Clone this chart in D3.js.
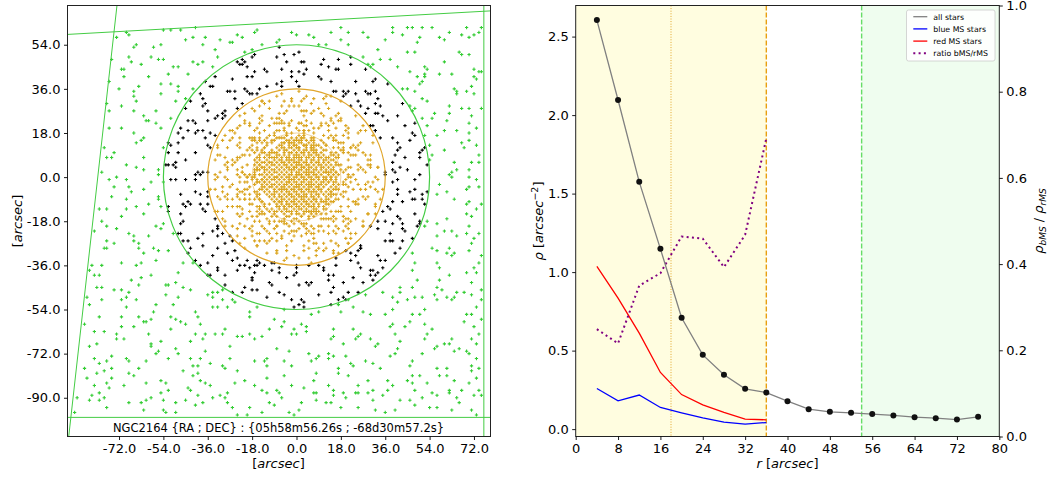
<!DOCTYPE html>
<html>
<head>
<meta charset="utf-8">
<script src="https://cdn.jsdelivr.net/npm/d3@7"></script>
<style>
  body { margin: 0; background: #fff; }
  text { font-family: "DejaVu Sans", sans-serif; }
</style>
</head>
<body>
<svg id="chart" width="1051" height="478"></svg>
<script>
// ---------- left panel data (arcsec) ----------
// field stars over the whole frame (x, y pairs)
const fieldStars = [
  -73,57, -69,59, -66,53, -68,58, -65,54, -51,60, -58,53, -54,60, -55,54, -47,60, -45,56, -42,57, -41,61, -33,52, -31,56, -37,57, -38,54, -27,55, -22,57, -26,55, -24,58, -18,52, -14,54, -16,60, -17,59, -7,56, -2,59, -7,53, -8,55, 7,57, 9,54, 5,58, 0,58, 12,54, 18,56, 18,61, 14,59, 21,59, 29,57, 27,59, 21,54, 36,56, 39,59, 33,52, 39,61, 49,55, 43,58, 47,61, 45,61, 51,61, 50,57, 55,61, 58,57, 62,59, 60,56, 69,61, 67,58, 72,58, 75,61, 70,57, 74,59,
  -75,48, -71,44, -68,49, -67,47, -70,44, -63,46, -52,42, -59,49, -54,48, -56,48, -50,45, -44,42, -48,45, -42,47, -34,45, -38,47, -40,46, -32,49, -21,47, -21,51, -22,46, -24,47, -18,49, -12,43, -20,45, -17,50, -6,44, -2,43, -8,49, -5,50, 3,47, 4,44, 2,47, 1,43, 11,48, 17,48, 10,46, 16,44, 27,49, 29,46, 28,44, 22,49, 31,46, 34,48, 38,48, 30,45, 48,51, 46,43, 45,51, 41,45, 53,44, 52,42, 58,42, 52,45, 63,42, 60,47, 66,51, 67,50, 72,44, 74,43, 70,50, 75,43,
  -76,39, -72,36, -66,33, -66,35, -64,37, -70,41, -51,38, -55,38, -55,34, -60,41, -45,32, -42,36, -48,35, -48,37, -37,39, -39,34, -33,41, -38,32, -25,32, -27,35, -25,35, -21,36, -16,34, -20,41, -12,37, -19,34, -8,38, -2,32, -6,37, -2,41, 1,37, 0,39, 1,35, 7,32, 14,39, 15,35, 10,40, 12,33, 28,35, 24,34, 21,35, 20,34, 32,40, 37,38, 30,34, 31,39, 49,41, 43,36, 48,35, 45,36, 52,41, 51,32, 51,39, 50,38, 65,35, 65,34, 64,36, 69,35, 73,40, 72,34, 72,41, 71,37,
  -77,30, -71,29, -76,27, -62,25, -61,23, -65,31, -66,27, -51,24, -57,27, -60,23, -57,22, -42,23, -49,31, -41,22, -44,23, -36,23, -36,27, -38,29, -32,25, -22,30, -29,25, -30,26, -21,23, -13,30, -15,29, -14,31, -14,25, -5,22, -1,29, -7,22, -7,24, 4,23, 4,27, 6,26, 1,22, 12,30, 18,31, 14,23, 17,26, 25,31, 26,29, 24,25, 28,26, 32,30, 34,29, 33,26, 37,23, 48,28, 46,29, 47,27, 48,22, 53,31, 51,24, 56,26, 55,24, 62,29, 67,28, 61,23, 62,26, 70,28, 70,22, 75,28, 71,25,
  -71,20, -78,12, -76,20, -65,14, -63,15, -66,18, -62,16, -55,20, -54,12, -52,14, -51,13, -48,18, -47,20, -46,16, -44,19, -40,19, -37,16, -36,13, -32,13, -24,20, -29,17, -30,15, -26,19, -15,16, -16,14, -17,15, -18,16, -4,17, -5,14, -6,16, -2,14, 2,16, 1,15, 3,19, 3,13, 19,12, 13,19, 16,17, 10,15, 27,21, 22,12, 26,19, 20,19, 32,19, 34,16, 39,16, 31,21, 44,21, 41,14, 42,12, 47,18, 53,21, 57,17, 52,17, 54,13, 65,19, 68,12, 67,14, 60,19, 70,18, 73,13, 73,20, 70,15,
  -74,10, -77,8, -79,2, -75,8, -65,4, -62,8, -62,3, -69,5, -53,5, -56,3, -52,5, -52,10, -49,6, -45,7, -48,10, -50,5, -31,2, -38,2, -40,2, -31,9, -24,7, -28,4, -22,2, -28,6, -11,6, -18,11, -15,5, -16,3, -10,10, -1,4, -9,8, -3,7, 1,8, 5,2, 3,4, 6,11, 14,9, 13,8, 16,2, 17,8, 28,9, 29,5, 22,9, 25,3, 39,3, 30,5, 33,4, 36,2, 40,2, 40,9, 42,4, 41,11, 53,5, 54,7, 50,10, 55,9, 63,2, 60,11, 65,3, 64,6, 74,9, 74,6, 71,6, 70,3,
  -76,-1, -74,-4, -73,0, -75,-8, -68,-4, -69,-1, -67,-6, -62,-5, -56,-8, -59,-2, -56,1, -54,-2, -41,1, -45,-1, -49,-1, -41,-6, -36,-8, -39,1, -35,-5, -39,-7, -29,-8, -24,-7, -30,-4, -21,-7, -16,-2, -17,1, -17,-6, -20,0, -5,-5, -3,-2, -8,0, -3,-7, 0,1, 3,-8, 6,-6, 5,-3, 17,-3, 15,-7, 19,-3, 14,-6, 29,-8, 21,0, 29,-2, 25,-3, 33,-1, 30,-4, 39,-2, 32,-5, 41,-1, 48,-1, 46,-6, 41,-7, 51,-7, 57,-7, 53,-6, 58,-3, 61,-6, 69,-5, 63,0, 62,1, 73,-1, 70,0, 70,-4, 74,-4,
  -71,-16, -77,-13, -79,-18, -80,-13, -65,-12, -69,-9, -69,-13, -62,-15, -55,-12, -56,-9, -52,-12, -60,-11, -43,-11, -46,-18, -46,-11, -44,-10, -38,-13, -37,-14, -33,-14, -31,-9, -21,-9, -24,-12, -28,-9, -23,-9, -16,-12, -11,-11, -15,-9, -14,-14, -3,-12, -7,-10, -5,-12, -9,-14, 8,-14, 7,-12, 5,-14, 7,-9, 15,-18, 12,-13, 17,-9, 12,-10, 24,-11, 28,-9, 29,-15, 21,-17, 32,-12, 32,-15, 37,-12, 39,-10, 43,-10, 48,-9, 41,-16, 48,-15, 53,-18, 50,-18, 51,-9, 52,-11, 69,-11, 64,-9, 69,-15, 61,-17, 71,-16, 75,-11, 73,-13, 70,-10,
  -82,-22, -74,-27, -73,-21, -77,-20, -77,-26, -64,-27, -68,-23, -66,-24, -66,-26, -60,-24, -54,-19, -55,-21, -57,-20, -44,-26, -46,-26, -47,-19, -50,-23, -32,-21, -34,-22, -40,-25, -38,-23, -29,-27, -27,-24, -21,-20, -26,-26, -11,-26, -16,-28, -14,-20, -17,-26, -1,-22, -5,-19, -8,-20, -9,-18, 4,-23, 7,-27, 3,-19, 7,-25, 11,-22, 19,-22, 10,-20, 17,-28, 20,-25, 22,-25, 21,-27, 27,-20, 39,-26, 38,-23, 36,-26, 30,-20, 49,-20, 44,-22, 43,-19, 47,-25, 50,-19, 52,-20, 57,-24, 57,-19, 60,-22, 65,-24, 63,-22, 69,-23, 71,-27, 72,-25, 74,-23, 70,-20,
  -83,-36, -84,-38, -78,-29, -71,-35, -77,-29, -79,-36, -63,-35, -64,-29, -62,-31, -65,-36, -58,-29, -57,-34, -52,-30, -56,-30, -44,-31, -43,-29, -46,-35, -42,-35, -39,-36, -32,-38, -36,-35, -34,-32, -23,-36, -24,-33, -24,-38, -21,-29, -16,-34, -20,-34, -15,-35, -19,-37, -7,-37, -8,-31, -10,-35, -10,-38, 0,-37, 5,-36, 6,-35, 8,-30, 11,-37, 12,-29, 17,-31, 11,-38, 24,-32, 25,-30, 22,-34, 26,-37, 33,-32, 35,-37, 36,-34, 30,-38, 48,-35, 42,-29, 47,-31, 47,-38, 58,-37, 55,-29, 57,-30, 57,-35, 61,-31, 63,-32, 64,-31, 62,-29, 74,-35, 72,-37, 70,-30, 75,-32,
  -82,-40, -81,-45, -74,-46, -80,-40, -71,-46, -79,-45, -63,-41, -67,-42, -64,-44, -68,-47, -53,-44, -59,-40, -53,-48, -52,-44, -43,-46, -48,-39, -49,-43, -46,-45, -34,-47, -32,-47, -36,-40, -36,-48, -30,-46, -21,-45, -29,-44, -29,-40, -18,-41, -17,-39, -16,-46, -11,-43, -5,-48, -7,-39, -4,-41, -7,-47, 0,-39, 1,-44, 4,-43, 6,-43, 15,-40, 14,-47, 19,-43, 15,-45, 28,-48, 25,-47, 23,-41, 27,-43, 31,-42, 30,-40, 35,-47, 33,-39, 47,-45, 49,-42, 42,-47, 42,-45, 57,-45, 59,-46, 56,-48, 58,-42, 69,-39, 62,-40, 65,-47, 68,-47, 75,-46, 71,-43, 71,-48, 73,-39,
  -85,-49, -84,-52, -80,-57, -79,-50, -71,-57, -71,-50, -65,-50, -64,-57, -69,-53, -69,-49, -58,-55, -59,-58, -57,-52, -51,-57, -50,-52, -48,-49, -49,-58, -41,-55, -34,-53, -40,-57, -32,-53, -34,-49, -26,-50, -30,-50, -28,-53, -25,-51, -16,-53, -19,-57, -12,-49, -19,-55, -5,-54, -1,-53, -2,-50, -9,-58, 3,-51, 6,-56, 1,-52, 9,-55, 17,-50, 17,-52, 14,-52, 18,-55, 27,-55, 21,-50, 23,-53, 20,-50, 39,-49, 39,-54, 36,-56, 30,-56, 45,-50, 41,-51, 48,-49, 47,-56, 50,-56, 57,-50, 52,-54, 51,-49, 61,-49, 63,-50, 64,-49, 69,-56, 75,-58, 75,-50, 73,-53, 71,-56,
  -81,-68, -82,-63, -86,-60, -73,-66, -78,-63, -71,-61, -73,-64, -62,-59, -70,-66, -66,-61, -61,-59, -51,-62, -55,-67, -59,-68, -60,-64, -45,-60, -41,-64, -43,-67, -47,-59, -39,-60, -33,-64, -37,-64, -38,-66, -22,-65, -29,-62, -24,-65, -30,-64, -11,-62, -14,-65, -17,-66, -19,-64, -2,-64, -5,-59, -1,-62, -6,-61, 0,-64, 2,-60, 4,-61, 4,-63, 15,-62, 19,-68, 14,-66, 15,-65, 25,-65, 23,-62, 24,-66, 26,-64, 39,-60, 30,-66, 38,-61, 33,-68, 40,-64, 42,-67, 46,-59, 44,-61, 52,-60, 55,-62, 52,-66, 53,-64, 63,-66, 60,-68, 68,-59, 62,-68, 73,-68, 71,-66, 74,-64, 72,-61,
  -86,-78, -84,-69, -82,-74, -75,-78, -80,-76, -77,-75, -75,-73, -68,-75, -64,-78, -69,-74, -61,-75, -57,-72, -59,-69, -56,-71, -52,-74, -42,-77, -49,-70, -43,-74, -48,-72, -40,-77, -39,-74, -37,-71, -35,-76, -30,-77, -27,-74, -29,-78, -27,-69, -13,-75, -12,-74, -17,-75, -12,-77, -3,-71, -5,-75, -8,-70, -2,-77, 8,-74, 6,-75, 5,-72, 9,-73, 17,-78, 15,-73, 13,-74, 13,-72, 22,-76, 20,-73, 28,-75, 23,-77, 38,-73, 31,-76, 34,-78, 32,-69, 40,-72, 46,-77, 41,-70, 47,-75, 51,-72, 57,-69, 57,-78, 56,-70, 66,-70, 69,-71, 61,-78, 64,-71, 74,-78, 71,-77, 70,-72, 73,-74,
  -85,-82, -81,-80, -82,-85, -78,-79, -75,-82, -77,-84, -76,-86, -61,-84, -70,-85, -66,-81, -68,-80, -52,-87, -53,-84, -55,-88, -55,-83, -46,-79, -44,-86, -42,-81, -43,-87, -37,-84, -39,-83, -40,-80, -35,-85, -21,-83, -25,-84, -24,-79, -28,-88, -12,-82, -14,-87, -17,-85, -12,-88, -2,-85, -8,-87, -7,-88, -5,-81, 3,-86, 7,-88, 8,-80, 7,-83, 15,-87, 19,-88, 13,-85, 17,-80, 25,-85, 21,-81, 29,-83, 25,-88, 37,-83, 37,-87, 39,-85, 31,-87, 48,-87, 45,-83, 47,-81, 47,-84, 58,-81, 50,-81, 55,-88, 53,-84, 62,-87, 61,-81, 67,-87, 64,-83, 71,-79, 70,-84, 73,-82, 74,-87,
  -90,-96, -84,-91, -83,-89, -89,-90, -77,-94, -80,-88, -80,-91, -78,-90, -61,-91, -68,-92, -63,-92, -62,-95, -53,-96, -54,-95, -54,-91, -59,-90, -49,-96, -49,-92, -41,-93, -45,-91, -31,-89, -40,-89, -34,-90, -38,-92, -29,-90, -24,-97, -26,-94, -28,-92, -20,-97, -19,-94, -11,-92, -14,-96, -1,-97, -3,-96, -9,-93, -6,-90, 2,-92, 8,-88, 1,-95, 8,-91, 12,-92, 18,-94, 14,-92, 15,-89, 29,-88, 20,-90, 24,-88, 25,-94, 32,-95, 36,-96, 35,-89, 31,-91, 46,-91, 40,-95, 42,-91, 48,-93, 57,-94, 54,-94, 57,-89, 51,-90, 63,-95, 65,-90, 62,-88, 66,-92, 73,-97, 71,-95, 72,-89, 75,-89
];

// cluster members outside the core (x, y pairs)
const clusterStars = [
  -20,35, -18,34, -14,31, -11,31, -8,33, -6,34, -2,31, -5,31, 4,33, 2,31, 3,32, 11,32, 6,30, 14,33, 16,35, 19,33,
  -29,27, -21,26, -23,25, -15,24, -18,28, -17,27, -8,24, -11,28, -10,24, -7,26, -6,29, -5,26, -3,29, -4,27, 3,27, 3,25, 1,29, 2,27, 11,25, 7,27, 10,26, 9,28, 16,25, 13,28, 14,24, 22,29, 18,24, 29,28,
  -35,18, -27,19, -25,18, -19,22, -23,21, -21,22, -19,21, -15,18, -14,23, -16,20, -13,19, -15,22, -17,19, -7,19, -9,22, -8,22, -9,18, -11,21, -8,19, -2,23, -5,19, -4,18, -6,22, -2,18, -3,22, -3,21, -5,20, -6,23, 1,19, 3,18, 1,22, 3,21, 2,22, 4,21, 3,19, 5,19, 0,20, 9,20, 10,21, 6,22, 7,20, 10,22, 7,18, 12,22, 16,20, 17,23, 15,22, 13,21, 13,19, 18,23, 21,20, 21,18, 20,21, 25,18, 28,19, 32,19,
  -35,12, -32,12, -28,12, -27,15, -26,16, -23,16, -19,12, -24,13, -19,16, -23,12, -23,14, -18,15, -18,13, -17,15, -16,12, -15,15, -13,15, -13,12, -17,16, -14,14, -8,16, -12,16, -9,17, -10,15, -11,17, -12,14, -3,12, -1,13, -3,14, -6,14, -5,16, -1,15, 0,16, 2,16, 4,13, 3,17, 4,15, 1,12, 11,17, 6,12, 6,16, 7,13, 7,15, 8,13, 13,16, 17,12, 15,16, 14,17, 16,15, 12,13, 15,12, 17,14, 15,15, 21,16, 19,14, 18,14, 22,12, 19,17, 23,13, 24,12, 25,13, 26,14, 31,14, 31,17,
  -32,9, -33,7, -29,8, -26,7, -25,6, -28,6, -23,8, -22,9, -19,9, -24,8, -20,11, -21,9, -17,10, -15,8, -17,7, -14,10, -14,6, -16,11, 17,9, 16,6, 16,10, 12,11, 13,8, 15,7, 19,10, 18,11, 23,9, 21,10, 19,11, 21,7, 24,9, 27,10, 25,11, 29,7, 30,7, 30,9,
  -36,2, -33,1, -32,0, -29,0, -26,5, -29,5, -28,3, -24,3, -20,0, -21,1, -19,1, -23,0, -24,1, -20,5, -22,4, -22,2, -18,0, -15,5, -16,3, -17,2, -14,4, -13,3, 12,2, 14,0, 17,1, 16,5, 13,2, 15,4, 22,4, 22,0, 20,3, 18,5, 21,4, 23,1, 21,1, 18,3, 19,2, 25,5, 26,4, 27,3, 28,2, 33,4, 30,4, 32,0,
  -33,-5, -36,-6, -33,-1, -28,-1, -26,-3, -30,-6, -27,-4, -23,-6, -23,-2, -21,-2, -22,-6, -20,-2, -24,-5, -20,-5, -19,-4, -21,-5, -14,-4, -16,-1, -14,-1, -13,-2, -17,-3, -18,-1, 12,-1, 16,-2, 15,-5, 13,-2, 16,-5, 14,-1, 19,-2, 20,-3, 20,-6, 21,-4, 20,-1, 22,-2, 19,-3, 23,-5, 19,-6, 28,-3, 24,-1, 26,-5, 28,-5, 33,-6, 31,-2, 35,-5,
  -36,-11, -32,-8, -26,-12, -26,-9, -28,-12, -28,-7, -19,-9, -19,-11, -23,-12, -24,-8, -21,-9, -19,-7, -15,-9, -15,-12, -18,-11, -14,-10, -16,-7, -17,-9, 16,-7, 15,-10, 12,-9, 16,-9, 13,-11, 14,-7, 21,-9, 18,-7, 21,-12, 19,-8, 23,-10, 18,-12, 25,-11, 25,-9, 24,-10, 27,-8, 34,-9, 32,-11,
  -33,-17, -32,-14, -29,-18, -30,-14, -30,-17, -24,-15, -20,-17, -19,-14, -23,-16, -22,-13, -22,-15, -16,-14, -13,-15, -17,-18, -16,-16, -14,-15, -18,-16, -15,-15, -15,-18, -15,-13, -12,-17, -11,-18, -7,-18, -8,-14, -10,-16, -10,-13, -3,-14, -2,-18, -5,-18, -1,-17, -6,-18, -4,-16, 1,-18, 2,-16, 3,-15, 5,-16, 4,-14, 0,-14, 11,-17, 7,-14, 8,-15, 10,-15, 10,-17, 6,-14, 17,-14, 12,-15, 12,-17, 16,-14, 14,-14, 15,-16, 13,-17, 16,-17, 14,-17, 22,-18, 18,-14, 20,-17, 22,-14, 19,-18, 19,-16, 24,-17, 27,-18, 29,-15, 33,-18, 35,-14,
  -32,-24, -26,-20, -29,-20, -24,-21, -19,-21, -23,-19, -24,-24, -18,-22, -18,-20, -16,-23, -18,-24, -15,-23, -13,-21, -11,-19, -8,-20, -11,-23, -9,-21, -8,-23, -12,-22, -1,-19, -6,-24, -5,-22, -3,-23, -3,-20, -1,-24, -4,-19, -2,-22, 4,-21, 3,-20, 2,-19, 4,-23, 2,-24, 5,-22, 1,-21, 4,-19, 0,-22, 7,-21, 6,-23, 6,-20, 9,-22, 7,-23, 9,-20, 13,-20, 13,-23, 16,-23, 17,-21, 15,-22, 16,-20, 20,-20, 21,-21, 22,-23, 21,-19, 24,-23, 27,-20, 33,-21,
  -25,-30, -21,-25, -23,-27, -15,-26, -13,-26, -16,-28, -8,-30, -8,-26, -12,-27, -10,-25, -2,-26, -4,-28, -4,-30, -6,-25, 5,-29, 3,-28, 3,-30, 5,-26, 11,-30, 9,-29, 8,-27, 11,-27, 14,-26, 15,-30, 16,-27, 21,-27, 20,-30, 26,-29,
  -21,-36, -16,-36, -13,-36, -12,-31, -9,-35, -1,-32, -4,-33, -5,-34, 5,-33, 1,-33, 0,-36, 9,-36, 8,-32, 15,-31, 16,-33, 22,-31,
  -23,46, -17,43, -4,47, 1,51, 17,44, -35,37, -26,40, -18,41, -6,39, 9,41, 19,35, 29,34, 32,35, -45,28, -33,24, -24,28, 35,25, 41,25, -48,14, -38,19, 30,21, 48,17, 52,12, -41,10, 39,6, 45,3, 51,11, -51,-1, -47,-7, 36,1, 48,-5, 50,1, -47,-15, -39,-11, 38,-13, 42,-17, -48,-23, -32,-20, 26,-28, 39,-19, 43,-21, -41,-34, -32,-29, -26,-34, 16,-36, 25,-35, 31,-38, 40,-31, -35,-40, -22,-47, -18,-42, -10,-44, 9,-48, 13,-42, 32,-40, 2,-50, 19,-49,
  -22,48, -13,44, -1,50, 3,42, 13,45, 22,46, -34,37, -28,35, -15,36, 24,39, 33,32, -43,31, -37,30, -30,24, 32,26, 43,30, -41,18, -33,17, 46,15, -49,4, 44,8, 50,8, -41,-1, 41,-5, -52,-14, -45,-12, 36,-18, 47,-9, -47,-23, -38,-28, -30,-23, 38,-26, 43,-26, -32,-37, -28,-31, -17,-36, 26,-29, 34,-34, -26,-47, -18,-46, -1,-40, 5,-44, 13,-40, 21,-47, 3,-53
];

// cluster core: each row is [y, x, x, ...]
const coreRows = [
  [17, -4, 1],
  [16, -7, -2, 3, 7],
  [15, -9, -4, -3, 0, 2, 6],
  [14, -10, -5, -3, -1, 1, 2, 5, 7, 11],
  [13, -12, -7, -6, -3, -1, 0, 3, 4, 6, 9, 12],
  [12, -13, -8, -6, -5, -2, 0, 1, 4, 6, 7, 10],
  [11, -14, -10, -7, -5, -4, -1, 1, 3, 4, 7, 8, 11],
  [10, -13, -11, -9, -8, -5, -3, -2, 0, 2, 3, 5, 7, 8, 10, 14],
  [9, -15, -12, -11, -8, -7, -5, -3, -1, 0, 1, 3, 5, 6, 8, 9, 11, 15],
  [8, -16, -13, -11, -10, -8, -6, -4, -3, -1, 0, 2, 4, 5, 7, 9, 10, 12, 16],
  [7, -15, -12, -9, -7, -6, -4, -2, -1, 1, 2, 4, 6, 7, 9, 11, 12, 14],
  [6, -16, -13, -11, -10, -8, -6, -5, -3, -1, 0, 1, 3, 4, 6, 8, 9, 11, 13],
  [5, -17, -12, -10, -9, -7, -5, -4, -2, 0, 1, 2, 4, 5, 7, 9, 10, 12, 14, 17],
  [4, -16, -14, -13, -11, -8, -6, -4, -3, -1, 0, 2, 3, 5, 6, 8, 10, 11, 13],
  [3, -17, -15, -12, -10, -9, -7, -5, -3, -2, -1, 1, 2, 4, 5, 7, 8, 10, 12, 14, 15],
  [2, -13, -11, -9, -8, -6, -4, -2, 0, 1, 3, 4, 6, 7, 9, 11, 12, 14, 16],
  [1, -17, -15, -14, -12, -10, -7, -5, -3, -2, 0, 1, 2, 4, 5, 7, 8, 10, 13, 15],
  [0, -17, -13, -11, -9, -8, -6, -4, -3, -1, 0, 2, 3, 5, 6, 8, 9, 11, 12, 14, 16],
  [-1, -14, -12, -10, -9, -7, -5, -3, -2, -1, 1, 3, 4, 6, 7, 9, 11, 12, 14, 16],
  [-2, -16, -15, -13, -11, -8, -6, -4, -3, -1, 0, 2, 3, 5, 6, 8, 10, 11, 13, 15],
  [-3, -17, -14, -12, -10, -9, -7, -5, -4, -2, 0, 1, 2, 4, 6, 7, 9, 10, 12, 15],
  [-4, -13, -11, -10, -8, -6, -5, -3, -1, 0, 1, 3, 5, 6, 8, 9, 11, 14, 16],
  [-5, -15, -14, -12, -9, -7, -6, -4, -2, -1, 1, 2, 4, 5, 7, 9, 10, 13, 17],
  [-6, -16, -13, -11, -9, -8, -6, -4, -3, -1, 0, 2, 3, 5, 7, 8, 10, 12, 14],
  [-7, -15, -12, -10, -9, -7, -5, -3, -2, 0, 1, 3, 4, 6, 8, 9, 11, 13],
  [-8, -16, -11, -9, -7, -6, -4, -2, -1, 1, 2, 4, 6, 7, 9, 12, 14],
  [-9, -15, -10, -8, -6, -5, -3, -1, 0, 2, 3, 5, 7, 8, 10, 13],
  [-10, -14, -9, -7, -6, -4, -2, -1, 1, 3, 4, 6, 8, 10, 11, 14],
  [-11, -13, -8, -6, -4, -3, -1, 0, 2, 4, 5, 7, 9, 12],
  [-12, -13, -8, -7, -5, -2, 0, 1, 3, 5, 6, 9, 11],
  [-13, -12, -7, -5, -4, -1, 1, 2, 4, 7, 8, 11],
  [-14, -11, -6, -4, -2, 0, 3, 5, 6, 9],
  [-15, -9, -5, -2, 0, 1, 6],
  [-16, -8, -3, 2, 7],
  [-17, -5, 0, 5]
];

const circleRadii = [18, 36, 54];
// edges of the observed field: x1, y1, x2, y2
const fieldEdges = [
  [-93, 58.2, 78.7, 67.8],
  [-72.8, 70.3, -92.4, -105.8],
  [-93, -98, 78.7, -98],
  [76, 70, 76, -105.8]
];
const xTicksLeft = [-72, -54, -36, -18, 0, 18, 36, 54, 72];
const yTicksLeft = [54, 36, 18, 0, -18, -36, -54, -72, -90];
const fieldCaption = "NGC2164 {RA ; DEC} : {05h58m56.26s ; -68d30m57.2s}";

// ---------- right panel data ----------
const radii = [4, 8, 12, 16, 20, 24, 28, 32, 36, 40, 44, 48, 52, 56, 60, 64, 68, 72, 76];
const rhoAll = [2.605, 2.096, 1.575, 1.148, 0.709, 0.473, 0.346, 0.257, 0.233, 0.178, 0.127, 0.110, 0.104, 0.096, 0.087, 0.076, 0.070, 0.061, 0.078];
const msRadii = [4, 8, 12, 16, 20, 24, 28, 32, 36];
const rhoBlue = [0.259, 0.180, 0.217, 0.138, 0.104, 0.072, 0.045, 0.032, 0.042];
const rhoRed = [1.036, 0.834, 0.611, 0.361, 0.220, 0.155, 0.106, 0.064, 0.059];
const ratioBR = [0.249, 0.216, 0.350, 0.379, 0.464, 0.459, 0.393, 0.468, 0.692];
const legendLabels = ["all stars", "blue MS stars", "red MS stars", "ratio bMS/rMS"];

const svg = d3.select("#chart");
const pairs = (arr) => d3.range(0, arr.length, 2).map((i) => [arr[i], arr[i + 1]]);
const fmt1 = (d) => d.toFixed(1);

function styleAxis(g) {
  g.select(".domain").remove();
  g.selectAll(".tick line").attr("stroke", "#000").attr("stroke-width", 0.9);
  g.selectAll(".tick text").attr("fill", "#000").style("font-size", "13px");
}

// =============== LEFT PANEL ===============
const L = { left: 67.5, right: 490.5, top: 5.5, bottom: 436.5 };
const xL = d3.scaleLinear().domain([-92.9, 78.7]).range([L.left, L.right]);
const yL = d3.scaleLinear().domain([-105.8, 70]).range([L.bottom, L.top]);

svg.append("clipPath").attr("id", "clipL")
  .append("rect").attr("x", L.left).attr("y", L.top)
  .attr("width", L.right - L.left).attr("height", L.bottom - L.top);

const gL = svg.append("g").attr("clip-path", "url(#clipL)");
const cross = d3.symbol(d3.symbolCross, 6)();

const corePoints = [];
coreRows.forEach((row) => row.slice(1).forEach((x) => corePoints.push([x, row[0]])));
const allStars = pairs(fieldStars).concat(pairs(clusterStars), corePoints);

// colour by the region each star falls in
const region = (d) => {
  const r = Math.hypot(d[0], d[1]);
  return r < circleRadii[1] ? 2 : r < circleRadii[2] ? 1 : 0;
};
const regionColor = ["#33cc33", "#000", "#daa520"];

[0, 1, 2].forEach((k) => {
  gL.append("g").selectAll("path")
    .data(allStars.filter((d) => region(d) === k))
    .join("path")
    .attr("d", cross)
    .attr("transform", (d) => "translate(" + xL(d[0]) + "," + yL(d[1]) + ")")
    .attr("fill", regionColor[k]);
});

gL.selectAll(".ring")
  .data(circleRadii)
  .join("ellipse")
  .attr("class", "ring")
  .attr("cx", xL(0))
  .attr("cy", yL(0))
  .attr("rx", (d) => xL(d) - xL(0))
  .attr("ry", (d) => yL(0) - yL(d))
  .attr("fill", "none")
  .attr("stroke", (d) => (d === 54 ? "#44cc44" : "#e0a52a"))
  .attr("stroke-width", (d) => (d === 18 ? 0.8 : 1.2))
  .attr("opacity", (d) => (d === 18 ? 0.6 : 1));

gL.selectAll(".edge")
  .data(fieldEdges)
  .join("line")
  .attr("class", "edge")
  .attr("x1", (d) => xL(d[0])).attr("y1", (d) => yL(d[1]))
  .attr("x2", (d) => xL(d[2])).attr("y2", (d) => yL(d[3]))
  .attr("stroke", "#44cc44")
  .attr("stroke-width", 1);

svg.append("text")
  .attr("x", 278.5).attr("y", 431.5)
  .attr("text-anchor", "middle")
  .style("font-size", "11.5px")
  .text(fieldCaption);

svg.append("rect")
  .attr("x", L.left).attr("y", L.top)
  .attr("width", L.right - L.left).attr("height", L.bottom - L.top)
  .attr("fill", "none").attr("stroke", "#222").attr("stroke-width", 1);

svg.append("g")
  .attr("transform", "translate(0," + L.bottom + ")")
  .call(d3.axisBottom(xL).tickValues(xTicksLeft).tickFormat(fmt1).tickSize(3.5).tickPadding(3.5))
  .call(styleAxis);

svg.append("g")
  .attr("transform", "translate(" + L.left + ",0)")
  .call(d3.axisLeft(yL).tickValues(yTicksLeft).tickFormat(fmt1).tickSize(3.5).tickPadding(3.5))
  .call(styleAxis);

const xLabL = svg.append("text").attr("x", 278.5).attr("y", 468).attr("text-anchor", "middle").style("font-size", "13px");
xLabL.append("tspan").text("[");
xLabL.append("tspan").style("font-style", "italic").text("arcsec");
xLabL.append("tspan").text("]");

const yLabL = svg.append("text").attr("transform", "translate(22," + (L.top + L.bottom) / 2 + ") rotate(-90)")
  .attr("text-anchor", "middle").style("font-size", "13px");
yLabL.append("tspan").text("[");
yLabL.append("tspan").style("font-style", "italic").text("arcsec");
yLabL.append("tspan").text("]");

// =============== RIGHT PANEL ===============
const R = { left: 575.7, right: 999.3, top: 5.5, bottom: 436.5 };
const xR = d3.scaleLinear().domain([0, 80]).range([R.left, R.right]);
const yR = d3.scaleLinear().domain([-0.047, 2.698]).range([R.bottom, R.top]);
const yR2 = d3.scaleLinear().domain([0, 1]).range([R.bottom, R.top]);

const gR = svg.append("g");

gR.append("rect")
  .attr("x", xR(0)).attr("y", R.top)
  .attr("width", xR(36) - xR(0)).attr("height", R.bottom - R.top)
  .attr("fill", "#fffde0");
gR.append("rect")
  .attr("x", xR(54)).attr("y", R.top)
  .attr("width", xR(80) - xR(54)).attr("height", R.bottom - R.top)
  .attr("fill", "#effdef");

gR.append("line")
  .attr("x1", xR(18)).attr("x2", xR(18)).attr("y1", R.top).attr("y2", R.bottom)
  .attr("stroke", "#e0a52a").attr("stroke-width", 1).attr("stroke-dasharray", "1,1.6");
gR.append("line")
  .attr("x1", xR(36)).attr("x2", xR(36)).attr("y1", R.top).attr("y2", R.bottom)
  .attr("stroke", "#e8a010").attr("stroke-width", 1.4).attr("stroke-dasharray", "5,2");
gR.append("line")
  .attr("x1", xR(54)).attr("x2", xR(54)).attr("y1", R.top).attr("y2", R.bottom)
  .attr("stroke", "#66dd66").attr("stroke-width", 1.4).attr("stroke-dasharray", "5,2");

const lineAll = d3.line().x((d, i) => xR(radii[i])).y((d) => yR(d));
const lineMS = d3.line().x((d, i) => xR(msRadii[i])).y((d) => yR(d));
const lineRatio = d3.line().x((d, i) => xR(msRadii[i])).y((d) => yR2(d));

gR.append("path").attr("d", lineMS(rhoBlue)).attr("fill", "none").attr("stroke", "blue").attr("stroke-width", 1.3);
gR.append("path").attr("d", lineMS(rhoRed)).attr("fill", "none").attr("stroke", "red").attr("stroke-width", 1.3);
gR.append("path").attr("d", lineRatio(ratioBR)).attr("fill", "none").attr("stroke", "purple")
  .attr("stroke-width", 2).attr("stroke-dasharray", "2,3.3");
gR.append("path").attr("d", lineAll(rhoAll)).attr("fill", "none").attr("stroke", "grey").attr("stroke-width", 1.3);
gR.selectAll(".dot")
  .data(rhoAll)
  .join("circle")
  .attr("class", "dot")
  .attr("cx", (d, i) => xR(radii[i]))
  .attr("cy", (d) => yR(d))
  .attr("r", 3)
  .attr("fill", "#111");

svg.append("rect")
  .attr("x", R.left).attr("y", R.top)
  .attr("width", R.right - R.left).attr("height", R.bottom - R.top)
  .attr("fill", "none").attr("stroke", "#222").attr("stroke-width", 1);

svg.append("g")
  .attr("transform", "translate(0," + R.bottom + ")")
  .call(d3.axisBottom(xR).tickValues(d3.range(0, 81, 8)).tickSize(3.5).tickPadding(3.5))
  .call(styleAxis);
svg.append("g")
  .attr("transform", "translate(" + R.left + ",0)")
  .call(d3.axisLeft(yR).tickValues([0, 0.5, 1, 1.5, 2, 2.5]).tickFormat(fmt1).tickSize(3.5).tickPadding(3.5))
  .call(styleAxis);
svg.append("g")
  .attr("transform", "translate(" + R.right + ",0)")
  .call(d3.axisRight(yR2).tickValues([0, 0.2, 0.4, 0.6, 0.8, 1]).tickFormat(fmt1).tickSize(3.5).tickPadding(3.5))
  .call(styleAxis);

const xLabR = svg.append("text").attr("x", (R.left + R.right) / 2).attr("y", 468).attr("text-anchor", "middle").style("font-size", "13px");
xLabR.append("tspan").style("font-style", "italic").text("r");
xLabR.append("tspan").text(" [");
xLabR.append("tspan").style("font-style", "italic").text("arcsec");
xLabR.append("tspan").text("]");

const yLabR = svg.append("text").attr("transform", "translate(543," + (R.top + R.bottom) / 2 + ") rotate(-90)")
  .attr("text-anchor", "middle").style("font-size", "13px");
yLabR.append("tspan").style("font-style", "italic").text("ρ");
yLabR.append("tspan").text(" [");
yLabR.append("tspan").style("font-style", "italic").text("arcsec");
yLabR.append("tspan").attr("dy", -5).style("font-size", "9.5px").text("−2");
yLabR.append("tspan").attr("dy", 5).text("]");

const yLabR2 = svg.append("text").attr("transform", "translate(1043," + (R.top + R.bottom) / 2 + ") rotate(-90)")
  .attr("text-anchor", "middle").style("font-size", "13px");
yLabR2.append("tspan").style("font-style", "italic").text("ρ");
yLabR2.append("tspan").attr("dy", 2.5).style("font-size", "9px").style("font-style", "italic").text("bMS");
yLabR2.append("tspan").attr("dy", -2.5).text(" / ");
yLabR2.append("tspan").style("font-style", "italic").text("ρ");
yLabR2.append("tspan").attr("dy", 2.5).style("font-size", "9px").style("font-style", "italic").text("rMS");

// legend
const legend = svg.append("g").attr("transform", "translate(906.5,10)");
legend.append("rect")
  .attr("width", 88.5).attr("height", 51).attr("rx", 2)
  .attr("fill", "#fff").attr("fill-opacity", 0.85)
  .attr("stroke", "#ccc").attr("stroke-width", 0.8);
const legendStyles = [
  { color: "grey", width: 1.3, dash: null },
  { color: "blue", width: 1.3, dash: null },
  { color: "red", width: 1.3, dash: null },
  { color: "purple", width: 2, dash: "2,3.3" }
];
legendLabels.forEach((label, i) => {
  const yy = 6.7 + i * 12.2;
  legend.append("line")
    .attr("x1", 6.8).attr("x2", 20.8).attr("y1", yy).attr("y2", yy)
    .attr("stroke", legendStyles[i].color)
    .attr("stroke-width", legendStyles[i].width)
    .attr("stroke-dasharray", legendStyles[i].dash);
  legend.append("text")
    .attr("x", 26.8).attr("y", yy + 2.8)
    .style("font-size", "7.8px")
    .text(label);
});
</script>
</body>
</html>
